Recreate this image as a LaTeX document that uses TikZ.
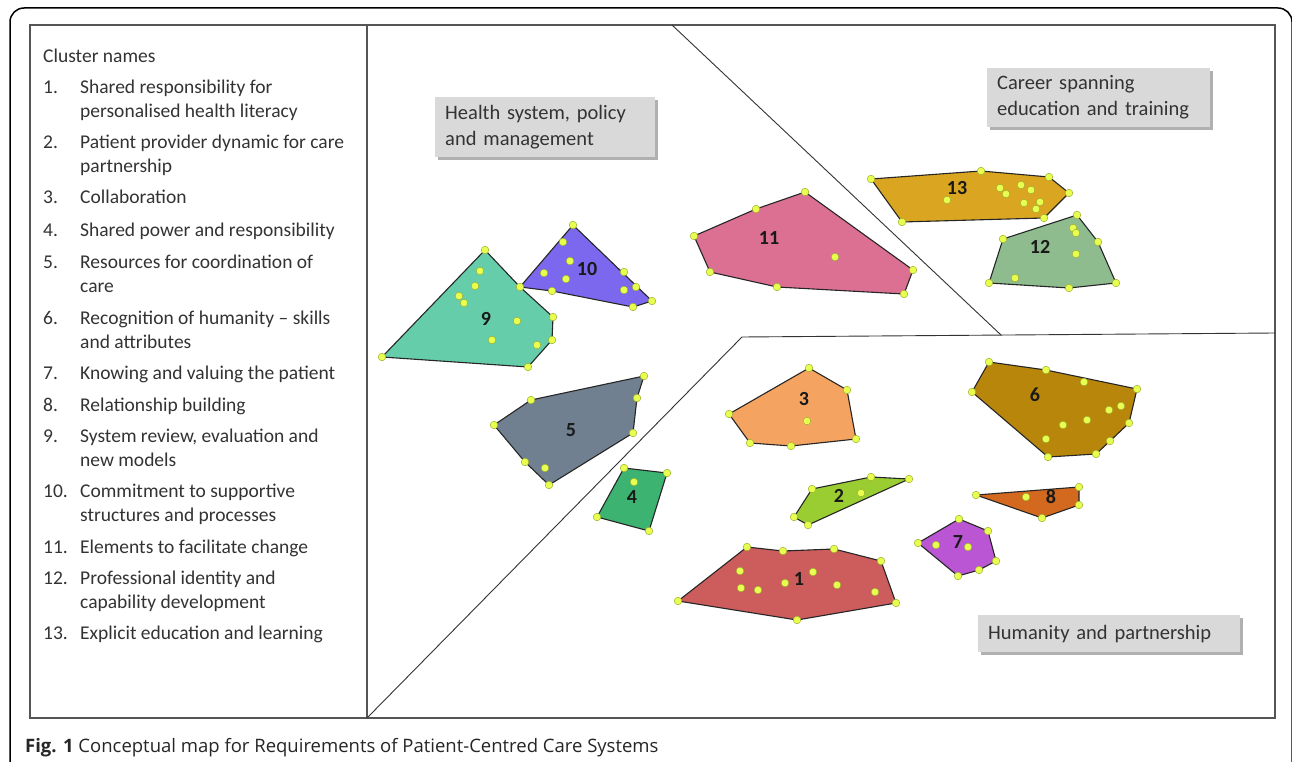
\documentclass[tikz,border=0pt]{standalone}
\usepackage{fontspec}
\setmainfont{Carlito}
\newfontfamily\capfont{Open Sans}
\definecolor{textgray}{HTML}{333333}
\definecolor{framegray}{HTML}{555555}
\definecolor{boxgray}{HTML}{D9D9D9}
\definecolor{shadowgray}{HTML}{B0B0B0}
\definecolor{dotyellow}{HTML}{E8FF50}
\definecolor{dotedge}{HTML}{A0B030}
\definecolor{cA}{HTML}{CD5C5C}
\definecolor{cB}{HTML}{9ACD32}
\definecolor{cC}{HTML}{F4A460}
\definecolor{cD}{HTML}{3CB371}
\definecolor{cE}{HTML}{708090}
\definecolor{cF}{HTML}{B8860B}
\definecolor{cG}{HTML}{BA55D3}
\definecolor{cH}{HTML}{D2691E}
\definecolor{cI}{HTML}{66CDAA}
\definecolor{cJ}{HTML}{7B68EE}
\definecolor{cK}{HTML}{DB7093}
\definecolor{cL}{HTML}{8FBC8F}
\definecolor{cM}{HTML}{DAA520}
\begin{document}
\begin{tikzpicture}[x=1pt,y=-1pt,
  poly/.style={draw=black!85, line width=1.1pt, line join=round},
  dotpt/.style={fill=dotyellow, draw=dotedge, line width=0.5pt},
  clab/.style={font=\fontsize{20}{24}\selectfont\bfseries, text=black!90, inner sep=0pt},
  itemtext/.style={anchor=base west, font=\fontsize{19.5}{24}\selectfont, text=textgray, inner sep=0pt},
  regionbox/.style={fill=boxgray, anchor=north west, align=left, font=\fontsize{20.5}{26}\selectfont, text=textgray, inner xsep=10pt, inner ysep=0pt},
  divider/.style={draw=black!80, line width=0.9pt}
]
\useasboundingbox (0,0) rectangle (1292,762);
\fill[white] (0,0) rectangle (1292,762);
% outer card frame
\draw[black, line width=1.5pt, rounded corners=14pt] (10,800) -- (10,8) -- (1292,8) -- (1292,800);
% inner frame
\draw[framegray, line width=1.4pt] (30,25) rectangle (1275,718);
\draw[framegray, line width=1.4pt] (367,25) -- (367,718);

% dividers
\coordinate (dTop) at (672,25);
\coordinate (dMid) at (1001,335);
\coordinate (hL) at (742,337);
\coordinate (hR) at (1275,333);
\coordinate (dBot) at (367,718);
\draw[divider] (dTop) -- (dMid);
\draw[divider] (hR) -- (hL) -- (dBot);

% list
\node[itemtext] (title) at (43,63) {Cluster names};
\foreach \n/\y/\ta/\tb in {
  1/94/{Shared responsibility for}/{personalised health literacy},
  2/149/{Patient provider dynamic for care}/{partnership},
  3/204/{Collaboration}/{},
  4/236/{Shared power and responsibility}/{},
  5/268/{Resources for coordination of}/{care},
  6/324/{Recognition of humanity -- skills}/{and attributes},
  7/379/{Knowing and valuing the patient}/{},
  8/411/{Relationship building}/{},
  9/442/{System review, evaluation and}/{new models},
  10/497/{Commitment to supportive}/{structures and processes},
  11/553/{Elements to facilitate change}/{},
  12/584/{Professional identity and}/{capability development},
  13/639/{Explicit education and learning}/{}}{
  \node[itemtext] (num\n) at (43,\y) {\n.};
  \node[itemtext] (item\n) at (80,\y) {\ta};
  \node[itemtext] (itemb\n) at (80,\y+24) {\tb};
}

% region labels
\fill[shadowgray] (438,100) rectangle (658,160);
\node[regionbox, minimum width=220pt, minimum height=60pt, text width=200pt] (rHealth) at (435,97) {Health system, policy\\and management};
\fill[shadowgray] (990,71) rectangle (1213,130);
\node[regionbox, minimum width=223pt, minimum height=59pt, text width=203pt] (rCareer) at (987,68) {Career spanning\\education and training};
\fill[shadowgray] (981,618) rectangle (1243,655);
\node[regionbox, minimum width=262pt, minimum height=37pt, text width=242pt] (rHuman) at (978,615) {Humanity and partnership};

% clusters
\filldraw[poly, fill=cA] (678,601) -- (747,547) -- (783,551) -- (834,549) -- (881,561) -- (896,603) -- (797,620) -- cycle;
\filldraw[poly, fill=cB] (812,489) -- (871,477) -- (909,479) -- (808,525) -- (794,517) -- cycle;
\filldraw[poly, fill=cC] (729,414) -- (809,368) -- (847,390) -- (856,439) -- (791,446) -- (750,443) -- cycle;
\filldraw[poly, fill=cD] (624,468) -- (667,473) -- (649,531) -- (597,517) -- cycle;
\filldraw[poly, fill=cE] (531,400) -- (644,376) -- (637,398) -- (633,433) -- (549,485) -- (525,462) -- (494,425) -- cycle;
\filldraw[poly, fill=cF] (989,362) -- (1046,370) -- (1137,389) -- (1129,423) -- (1110,441) -- (1096,454) -- (1048,457) -- (972,392) -- cycle;
\filldraw[poly, fill=cG] (959,519) -- (988,531) -- (996,561) -- (979,570) -- (958,576) -- (918,543) -- cycle;
\filldraw[poly, fill=cH] (976,495) -- (1079,487) -- (1079,505) -- (1042,518) -- cycle;
\filldraw[poly, fill=cI] (485,250) -- (520,287) -- (553,317) -- (552,340) -- (528,367) -- (382,357) -- cycle;
\filldraw[poly, fill=cJ] (573,225) -- (652,301) -- (633,307) -- (552,291) -- (520,287) -- cycle;
\filldraw[poly, fill=cK] (694,236) -- (756,209) -- (805,192) -- (913,270) -- (904,294) -- (777,287) -- (710,272) -- cycle;
\filldraw[poly, fill=cL] (1003,239) -- (1077,215) -- (1098,242) -- (1116,283) -- (1069,288) -- (989,283) -- cycle;
\filldraw[poly, fill=cM] (871,179) -- (981,171) -- (1049,177) -- (1069,193) -- (1044,218) -- (902,222) -- cycle;

% points
\foreach \p in {
  (678,601),(747,547),(783,551),(834,549),(881,561),(896,603),(797,620),
  (740,571),(741,588),(758,590),(785,583),(813,572),(837,585),(875,592),
  (812,489),(871,477),(909,479),(808,525),(794,517),(861,493),
  (729,414),(809,368),(847,390),(856,439),(791,446),(750,443),(807,421),
  (624,468),(667,473),(649,531),(597,517),(634,482),
  (531,400),(644,376),(637,398),(633,433),(549,485),(525,462),(494,425),(545,468),
  (989,362),(1046,370),(1137,389),(1129,423),(1110,441),(1096,454),(1048,457),(972,392),
  (1084,382),(1109,410),(1121,406),(1087,420),(1063,425),(1046,439),
  (959,519),(988,531),(996,561),(979,570),(958,576),(918,543),(936,545),(968,547),
  (976,495),(1079,487),(1079,505),(1042,518),(1026,497),
  (485,250),(520,287),(553,317),(552,340),(528,367),(382,357),
  (480,271),(475,286),(459,296),(464,303),(517,321),(492,340),(537,345),
  (573,225),(652,301),(633,307),(552,291),
  (563,242),(570,261),(544,273),(566,279),(624,272),(636,287),(624,290),
  (694,236),(756,209),(805,192),(913,270),(904,294),(777,287),(710,272),(835,257),
  (1003,239),(1077,215),(1098,242),(1116,283),(1069,288),(989,283),
  (1073,228),(1076,233),(1076,254),(1015,278),
  (871,179),(981,171),(1049,177),(1069,193),(1044,218),(902,222),
  (947,200),(1000,188),(1006,194),(1021,185),(1031,190),(1024,203),(1040,202),(1036,209)}{
  \filldraw[dotpt] \p circle (3.8pt);
}

% cluster numbers
\node[clab] (n1) at (799,579) {1};
\node[clab] (n2) at (839,496) {2};
\node[clab] (n3) at (804,399) {3};
\node[clab] (n4) at (632,497) {4};
\node[clab] (n5) at (571,430) {5};
\node[clab] (n6) at (1035,395) {6};
\node[clab] (n7) at (958,542) {7};
\node[clab] (n8) at (1051,497) {8};
\node[clab] (n9) at (486,319) {9};
\node[clab] (n10) at (587,269) {10};
\node[clab] (n11) at (769,238) {11};
\node[clab] (n12) at (1040,247) {12};
\node[clab] (n13) at (957,188) {13};

% caption
\node[anchor=base west, inner sep=0pt, font=\capfont\fontsize{18.5}{21}\selectfont, text=black!85] (caption) at (25,752) {\textbf{Fig. 1} Conceptual map for Requirements of Patient-Centred Care Systems};
\end{tikzpicture}
\end{document}
